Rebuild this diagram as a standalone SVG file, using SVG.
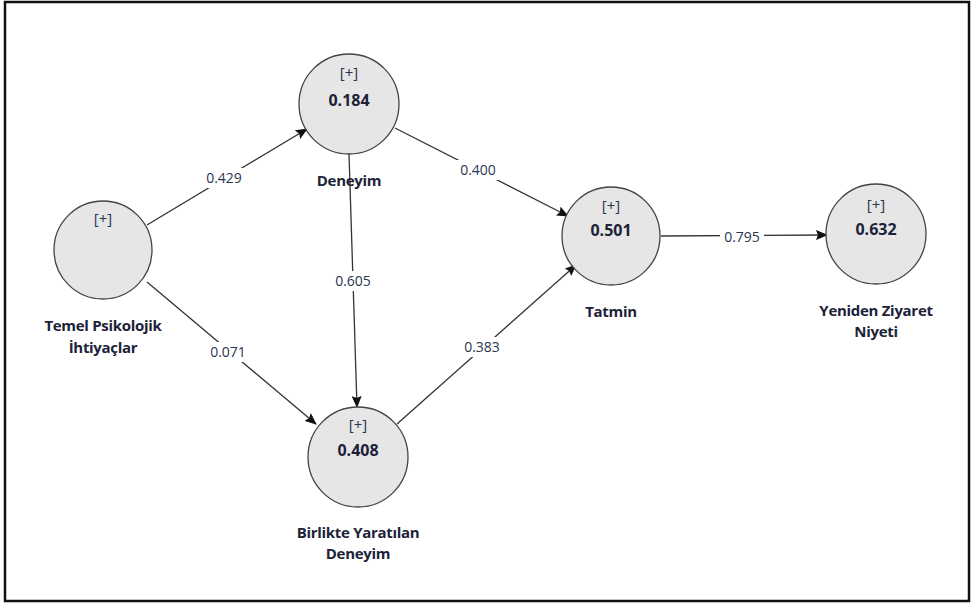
<svg xmlns="http://www.w3.org/2000/svg" width="974" height="606" viewBox="0 0 974 606">
<defs>
<style>
.node{fill:#e6e6e6;stroke:#444;stroke-width:1.3}
.plus{font-family:"Open Sans","Noto Sans",sans-serif;font-size:15px;fill:#2a3550;text-anchor:middle}
.val{font-family:"Open Sans","Noto Sans",sans-serif;font-size:16px;font-weight:bold;fill:#1c2238;text-anchor:middle}
.name{font-family:"Open Sans","Noto Sans",sans-serif;font-size:15px;font-weight:bold;fill:#1c2238;text-anchor:middle;letter-spacing:-0.3px}
.edge{stroke:#333;stroke-width:1.3;fill:none;marker-end:url(#ah)}
.el{font-family:"Open Sans","Noto Sans",sans-serif;font-size:14px;fill:#2a3550;text-anchor:middle}
.lbg{fill:#fff}
</style>
<marker id="ah" viewBox="0 0 12 10" refX="11" refY="5" markerWidth="12" markerHeight="10" markerUnits="userSpaceOnUse" orient="auto">
<path d="M0,0 L12,5 L0,10 L2,5 z" fill="#111"/>
</marker>
</defs>
<rect x="0" y="0" width="974" height="606" fill="#fff"/>
<rect x="5" y="2" width="964" height="599" fill="none" stroke="#111" stroke-width="2.5"/>
<g id="connectors">
<line class="edge" x1="147" y1="225" x2="307" y2="129"/>
<line class="edge" x1="395" y1="128" x2="568" y2="216"/>
<line class="edge" x1="349" y1="154" x2="357" y2="407"/>
<line class="edge" x1="147" y1="282" x2="316" y2="424"/>
<line class="edge" x1="397" y1="424" x2="576" y2="265"/>
<line class="edge" x1="661" y1="236" x2="827" y2="235"/>
<rect class="lbg" x="202" y="168" width="44" height="20"/>
<text class="el" x="224" y="183">0.429</text>
<rect class="lbg" x="456" y="160" width="44" height="20"/>
<text class="el" x="478" y="175">0.400</text>
<rect class="lbg" x="331" y="271" width="44" height="20"/>
<text class="el" x="353" y="286">0.605</text>
<rect class="lbg" x="206" y="342" width="44" height="20"/>
<text class="el" x="228" y="357">0.071</text>
<rect class="lbg" x="460" y="337" width="44" height="20"/>
<text class="el" x="482" y="352">0.383</text>
<rect class="lbg" x="720" y="227" width="44" height="20"/>
<text class="el" x="742" y="242">0.795</text>
</g>
<g id="deneyim">
<circle class="node" cx="349" cy="104" r="50"/>
<text class="plus" x="349" y="78">[+]</text>
<text class="val" x="349" y="106">0.184</text>
<text class="name" x="349" y="186">Deneyim</text>
</g>
<g id="temel">
<circle class="node" cx="103" cy="250" r="49"/>
<text class="plus" x="103" y="224">[+]</text>
<text class="name" x="103" y="331">Temel Psikolojik</text>
<text class="name" x="103" y="353">İhtiyaçlar</text>
</g>
<g id="tatmin">
<circle class="node" cx="611" cy="236" r="49"/>
<text class="plus" x="611" y="211">[+]</text>
<text class="val" x="611" y="236">0.501</text>
<text class="name" x="611" y="317">Tatmin</text>
</g>
<g id="yeniden">
<circle class="node" cx="876" cy="234" r="50"/>
<text class="plus" x="876" y="210">[+]</text>
<text class="val" x="876" y="235">0.632</text>
<text class="name" x="876" y="316">Yeniden Ziyaret</text>
<text class="name" x="876" y="337">Niyeti</text>
</g>
<g id="birlikte">
<circle class="node" cx="358" cy="457" r="50"/>
<text class="plus" x="358" y="430">[+]</text>
<text class="val" x="358" y="456">0.408</text>
<text class="name" x="358" y="538">Birlikte Yaratılan</text>
<text class="name" x="358" y="559">Deneyim</text>
</g>
</svg>
